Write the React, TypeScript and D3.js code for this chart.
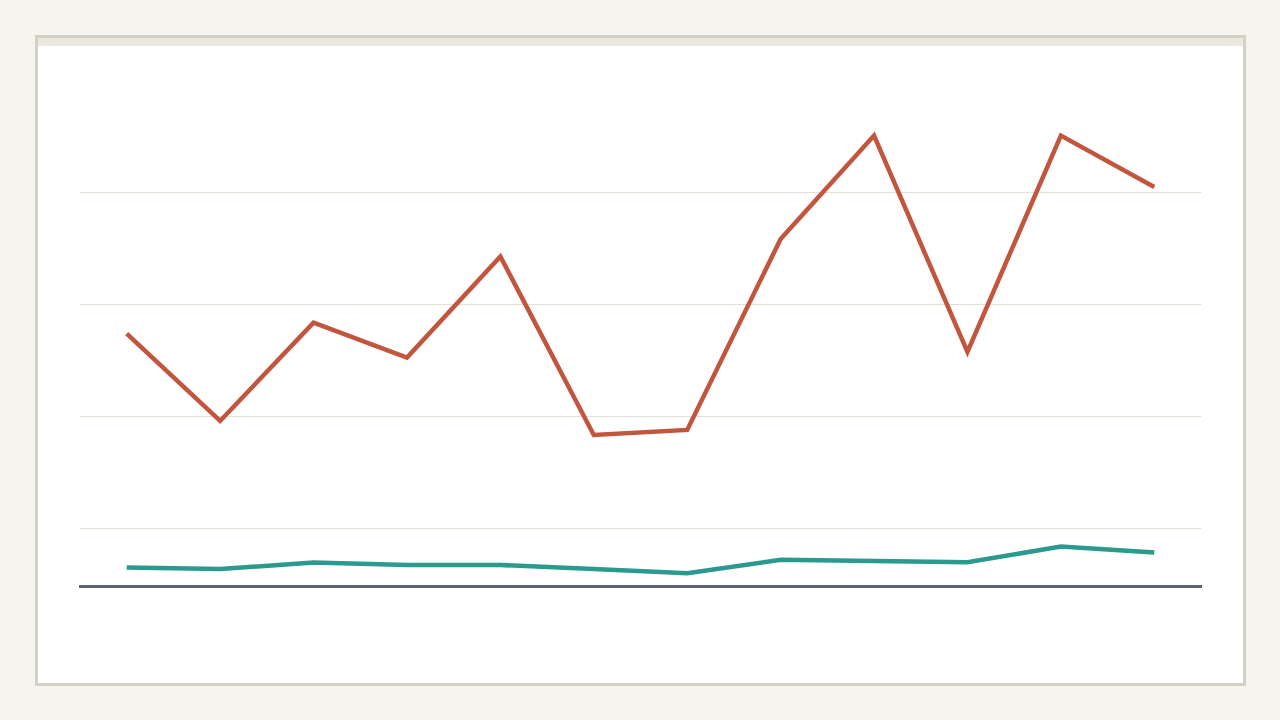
import React from "react";
import * as d3 from "d3";

const months = ["Jan", "Feb", "Mar", "Apr", "May", "Jun", "Jul", "Aug", "Sep", "Oct", "Nov", "Dec"];
const seriesA = [136.8, 97.8, 141.7, 126.1, 171.2, 91.5, 93.8, 179.0, 225.2, 128.6, 225.2, 202.2];
const seriesB = [32.4, 31.7, 34.6, 33.5, 33.5, 31.7, 29.8, 35.8, 35.3, 34.7, 41.7, 39.1];
const gridTicks = [50, 100, 150, 200];
const baselineValue = 23.9;

const W = 1280;
const H = 720;
const plotLeft = 80;
const plotRight = 1201;

export default function App() {
  const x = d3.scalePoint<string>().domain(months).range([plotLeft, plotRight]).padding(0.5);
  const y = d3.scaleLinear().domain([50, 200]).range([528, 192]);
  const line = d3
    .line<number>()
    .x((_, i) => x(months[i]) as number)
    .y((d) => y(d));
  const baseY = y(baselineValue);

  return (
    <svg
      width={W}
      height={H}
      style={{ position: "fixed", left: 0, top: 0, display: "block" }}
    >
      <rect x={0} y={0} width={W} height={H} fill="#f5f4ef" />
      <rect x={36.5} y={36.5} width={1208} height={648} fill="#ffffff" stroke="#d4d0c5" strokeWidth={3} />
      <rect x={38} y={38} width={1205} height={8} fill="#ece8df" />
      {gridTicks.map((t) => (
        <line
          key={t}
          x1={plotLeft}
          x2={plotRight}
          y1={Math.round(y(t)) + 0.5}
          y2={Math.round(y(t)) + 0.5}
          stroke="#e2e0d5"
          strokeWidth={1}
        />
      ))}
      <line x1={plotLeft - 1} x2={plotRight + 1} y1={baseY} y2={baseY} stroke="#5b6473" strokeWidth={3} />
      <path d={line(seriesB) || ""} fill="none" stroke="#2a9a8f" strokeWidth={4.5} />
      <path d={line(seriesA) || ""} fill="none" stroke="#c2553d" strokeWidth={4.5} />
    </svg>
  );
}
